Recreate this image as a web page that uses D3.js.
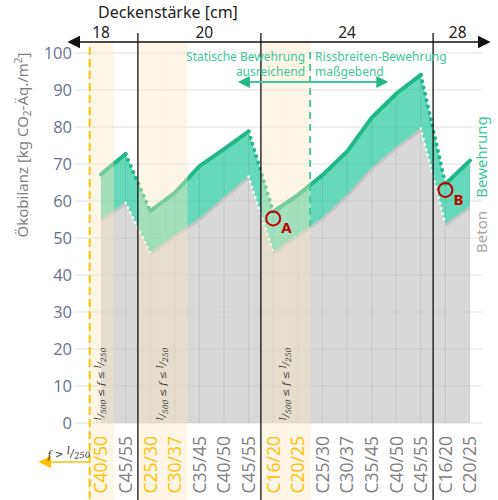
<!DOCTYPE html>
<html>
<head>
<meta charset="utf-8">
<script src="https://cdn.jsdelivr.net/npm/d3@7"></script>
<style>
  body { margin: 0; background: #fff; }
  svg { display: block; }
</style>
</head>
<body>
<svg id="chart" width="498" height="500"></svg>
<script>
// concrete classes along the x axis, grouped by slab thickness
var categories = ["C40/50","C45/55","C25/30","C30/37","C35/45","C40/50","C45/55",
                  "C16/20","C20/25","C25/30","C30/37","C35/45","C40/50","C45/55",
                  "C16/20","C20/25"];
var thickness  = [18,18,20,20,20,20,20,24,24,24,24,24,24,24,28,28];
// l/500 <= f <= l/250 columns
var highlighted = [1,0,1,1,0,0,0,1,1,0,0,0,0,0,0,0];

// kg CO2-Äq./m2
var beton = [55.3,59.5, 46.0,50.8,55.3,61.0,66.6, 46.3,50.8,55.5,61.6,69.0,74.5,79.6, 53.8,58.6];
var total = [67.2,72.7, 57.3,62.2,69.4,74.0,78.8, 57.1,61.6,67.0,73.3,82.5,89.0,94.1, 64.6,70.9];

var yTicks = [0,10,20,30,40,50,60,70,80,90,100];
var thicknessLabels = ["18","20","24","28"];
var thicknessLabelAt = [0, 4.2, 10, 14.5];   // position in columns

// annotation points (column, value)
var marks = [{name: "A", col: 7, v: 55.3}, {name: "B", col: 14, v: 63.0}];

var svg = d3.select("#chart");
var idx = d3.range(categories.length);

var x = d3.scaleBand().domain(idx).range([88.7, 482.3]).padding(0);
var bw = x.bandwidth();
var cx = function(i) { return x(i) + bw / 2; };
var y = d3.scaleLinear().domain([0, 100]).range([423, 53]);

var green = "#66d9bb", greenLine = "#1fb886", greenText = "#3cc99a";
var gold = "#ffc000";

// markers
var defs = svg.append("defs");
function marker(id, color, size) {
  defs.append("marker").attr("id", id)
    .attr("viewBox", "0 0 10 10").attr("refX", 8).attr("refY", 5)
    .attr("markerWidth", size).attr("markerHeight", size)
    .attr("orient", "auto-start-reverse").attr("markerUnits", "userSpaceOnUse")
    .append("path").attr("d", "M0,0 L10,5 L0,10 Z").attr("fill", color);
}
marker("arBlack", "#111", 13);
marker("arGreen", greenLine, 12);
marker("arGold", gold, 13);

// horizontal grid
svg.append("g").selectAll("line").data(yTicks).enter().append("line")
  .attr("x1", 75).attr("x2", x.range()[1])
  .attr("y1", function(d) { return y(d); }).attr("y2", function(d) { return y(d); })
  .attr("stroke", "#e2e2e2").attr("stroke-width", 1);

// areas
var areaBeton = d3.area().x(function(i) { return cx(i); })
  .y0(y(0)).y1(function(i) { return y(beton[i]); });
var areaBew = d3.area().x(function(i) { return cx(i); })
  .y0(function(i) { return y(beton[i]); }).y1(function(i) { return y(total[i]); });
var areaAll = d3.area().x(function(i) { return cx(i); })
  .y0(y(0)).y1(function(i) { return y(total[i]); });

svg.append("path").attr("d", areaBeton(idx)).attr("fill", "#d8d8d8");
svg.append("path").attr("d", areaBew(idx)).attr("fill", green);

// grid inside the areas
defs.append("clipPath").attr("id", "inArea").append("path").attr("d", areaAll(idx));
var inner = svg.append("g").attr("clip-path", "url(#inArea)");
inner.selectAll("line.v").data(idx).enter().append("line")
  .attr("x1", function(i) { return cx(i); }).attr("x2", function(i) { return cx(i); })
  .attr("y1", y(0)).attr("y2", y(100))
  .attr("stroke", "rgba(0,0,0,0.07)").attr("stroke-width", 1.2);
inner.selectAll("line.h").data(yTicks).enter().append("line")
  .attr("x1", 75).attr("x2", x.range()[1])
  .attr("y1", function(d) { return y(d); }).attr("y2", function(d) { return y(d); })
  .attr("stroke", "rgba(0,0,0,0.06)").attr("stroke-width", 1.2);

// lines: solid within a thickness, dotted at the jumps
var segs = d3.groups(idx, function(i) { return thickness[i]; });
var lineB = d3.line().x(function(i) { return cx(i); }).y(function(i) { return y(beton[i]); });
var lineT = d3.line().x(function(i) { return cx(i); }).y(function(i) { return y(total[i]); });

segs.forEach(function(s) {
  var ids = s[1];
  svg.append("path").attr("d", lineB(ids)).attr("fill", "none")
    .attr("stroke", "#c3c3c3").attr("stroke-width", 2.5).attr("transform", "translate(0,1.5)");
  svg.append("path").attr("d", lineT(ids)).attr("fill", "none")
    .attr("stroke", greenLine).attr("stroke-width", 4).attr("stroke-linecap", "round");
});
for (var k = 0; k < segs.length - 1; k++) {
  var a = segs[k][1][segs[k][1].length - 1], b = segs[k + 1][1][0];
  svg.append("path").attr("d", lineB([a, b])).attr("fill", "none")
    .attr("stroke", "#fff").attr("stroke-width", 2.6)
    .attr("stroke-linecap", "round").attr("stroke-dasharray", "0 5.5");
  svg.append("path").attr("d", lineT([a, b])).attr("fill", "none")
    .attr("stroke", greenLine).attr("stroke-width", 4)
    .attr("stroke-linecap", "round").attr("stroke-dasharray", "0 6.5");
}

// highlight bands l/500 <= f <= l/250
var hiIdx = idx.filter(function(i) { return highlighted[i]; });
svg.append("g").selectAll("rect").data(hiIdx).enter().append("rect")
  .attr("x", function(i) { return x(i); }).attr("width", bw + 0.5)
  .attr("y", 42).attr("height", 458)
  .attr("fill", "#fbe9c0").attr("opacity", 0.4);

// bands text (rotated)
var groupsHi = [];
hiIdx.forEach(function(i) {
  var g = groupsHi[groupsHi.length - 1];
  if (g && g[g.length - 1] === i - 1) g.push(i); else groupsHi.push([i]);
});
groupsHi.forEach(function(g) {
  var mx = (x(g[0]) + x(g[g.length - 1]) + bw) / 2;
  var t = svg.append("text")
    .attr("transform", "translate(" + (mx + 3) + ",384) rotate(-90)")
    .attr("text-anchor", "middle")
    .attr("font-family", "DejaVu Serif, Liberation Serif, serif")
    .attr("font-style", "italic").attr("font-size", 9.5).attr("fill", "#333");
  t.append("tspan").attr("dy", -3).text("l");
  t.append("tspan").attr("dy", 3).text("/");
  t.append("tspan").attr("dy", 2).attr("font-size", 7.5).text("500");
  t.append("tspan").attr("dy", -2).text(" ≤ f ≤ ");
  t.append("tspan").attr("dy", -3).text("l");
  t.append("tspan").attr("dy", 3).text("/");
  t.append("tspan").attr("dy", 2).attr("font-size", 7.5).text("250");
});

// x labels
svg.append("g").selectAll("text").data(idx).enter().append("text")
  .attr("transform", function(i) { return "translate(" + cx(i) + ",436) rotate(-90)"; })
  .attr("text-anchor", "end").attr("dy", "0.36em")
  .attr("font-family", "Open Sans, sans-serif").attr("font-size", 17.5)
  .attr("fill", function(i) { return highlighted[i] ? gold : "#808080"; })
  .text(function(i) { return categories[i]; });

// y labels
svg.append("g").selectAll("text").data(yTicks).enter().append("text")
  .attr("x", 72).attr("y", function(d) { return y(d); }).attr("dy", "0.36em")
  .attr("text-anchor", "end")
  .attr("font-family", "Open Sans, sans-serif").attr("font-size", 16.5)
  .attr("fill", "#66738f").text(function(d) { return d; });

// y title
var yt = svg.append("text").attr("transform", "translate(23,145) rotate(-90)")
  .attr("text-anchor", "middle").attr("dy", "0.35em")
  .attr("font-family", "Noto Sans, sans-serif").attr("font-size", 15).attr("fill", "#7f7f7f");
yt.append("tspan").text("Ökobilanz [kg CO");
yt.append("tspan").attr("dy", 3).attr("font-size", 10).text("2");
yt.append("tspan").attr("dy", -3).text("-Äq./m");
yt.append("tspan").attr("dy", -6).attr("font-size", 10).text("2");
yt.append("tspan").attr("dy", 6).text("]");

// top axis (slab thickness)
svg.append("line").attr("x1", 70).attr("x2", 488).attr("y1", 42).attr("y2", 42)
  .attr("stroke", "#111").attr("stroke-width", 1.5)
  .attr("marker-start", "url(#arBlack)").attr("marker-end", "url(#arBlack)");
svg.append("g").selectAll("text").data(thicknessLabels).enter().append("text")
  .attr("x", function(d, i) { return cx(0) + thicknessLabelAt[i] * bw; })
  .attr("y", 38).attr("text-anchor", "middle")
  .attr("font-family", "Noto Sans, sans-serif").attr("font-size", 15.5).attr("fill", "#222")
  .text(function(d) { return d; });
svg.append("text").attr("x", 168).attr("y", 18).attr("text-anchor", "middle")
  .attr("font-family", "Noto Sans, sans-serif").attr("font-size", 16).attr("fill", "#222")
  .text("Deckenstärke [cm]");

// separators between thicknesses
var seps = idx.filter(function(i) { return i > 0 && thickness[i] !== thickness[i - 1]; });
svg.append("g").selectAll("line").data(seps).enter().append("line")
  .attr("x1", function(i) { return x(i); }).attr("x2", function(i) { return x(i); })
  .attr("y1", 33).attr("y2", 500).attr("stroke", "#111").attr("stroke-width", 1.3);

// f > l/250 limit
svg.append("line").attr("x1", x(0) + 1).attr("x2", x(0) + 1).attr("y1", 47).attr("y2", 500)
  .attr("stroke", gold).attr("stroke-width", 2).attr("stroke-dasharray", "8 4");
svg.append("line").attr("x1", x(0) + 1).attr("x2", 41).attr("y1", 462).attr("y2", 462)
  .attr("stroke", gold).attr("stroke-width", 1.6).attr("marker-end", "url(#arGold)");
var ft = svg.append("text").attr("transform", "translate(69,457) rotate(-4)")
  .attr("text-anchor", "middle")
  .attr("font-family", "DejaVu Serif, Liberation Serif, serif")
  .attr("font-style", "italic").attr("font-size", 10.5).attr("fill", "#333");
ft.append("tspan").text("f > ");
ft.append("tspan").attr("dy", -3).text("l");
ft.append("tspan").attr("dy", 3).text("/");
ft.append("tspan").attr("dy", 2).attr("font-size", 8.5).text("250");

// static vs crack-width reinforcement
var bx = x(9);
var bAt = (beton[8] + beton[9]) / 2;
svg.append("line").attr("x1", bx).attr("x2", bx).attr("y1", 52).attr("y2", y(bAt))
  .attr("stroke", greenText).attr("stroke-width", 1.8).attr("stroke-dasharray", "7 5");
svg.append("line").attr("x1", x(6) + 4).attr("x2", x(12) + 2).attr("y1", 82).attr("y2", 82)
  .attr("stroke", greenText).attr("stroke-width", 1.8)
  .attr("marker-start", "url(#arGreen)").attr("marker-end", "url(#arGreen)");
var noteL = ["Statische Bewehrung", "ausreichend"];
var noteR = ["Rissbreiten-Bewehrung", "maßgebend"];
noteL.forEach(function(s, i) {
  svg.append("text").attr("x", bx - 5).attr("y", 61 + i * 14.5).attr("text-anchor", "end")
    .attr("font-family", "Noto Sans, sans-serif").attr("font-size", 12).attr("fill", greenText).text(s);
});
noteR.forEach(function(s, i) {
  svg.append("text").attr("x", bx + 5).attr("y", 61 + i * 14.5)
    .attr("font-family", "Noto Sans, sans-serif").attr("font-size", 12).attr("fill", greenText).text(s);
});

// series labels
svg.append("text").attr("transform", "translate(482,157) rotate(-90)")
  .attr("text-anchor", "middle").attr("dy", "0.35em")
  .attr("font-family", "Noto Sans, sans-serif").attr("font-size", 15).attr("fill", greenText).text("Bewehrung");
svg.append("text").attr("transform", "translate(482,232) rotate(-90)")
  .attr("text-anchor", "middle").attr("dy", "0.35em")
  .attr("font-family", "Noto Sans, sans-serif").attr("font-size", 15).attr("fill", "#a6a6a6").text("Beton");

// A / B markers
marks.forEach(function(m) {
  var px = cx(m.col), py = y(m.v);
  svg.append("circle").attr("cx", px).attr("cy", py).attr("r", 7)
    .attr("fill", "none").attr("stroke", "#c00000").attr("stroke-width", 2);
  svg.append("text").attr("x", px + 8).attr("y", py + 15)
    .attr("font-family", "Noto Sans, sans-serif").attr("font-weight", "bold")
    .attr("font-size", 15).attr("fill", "#c00000").text(m.name);
});
</script>
</body>
</html>
